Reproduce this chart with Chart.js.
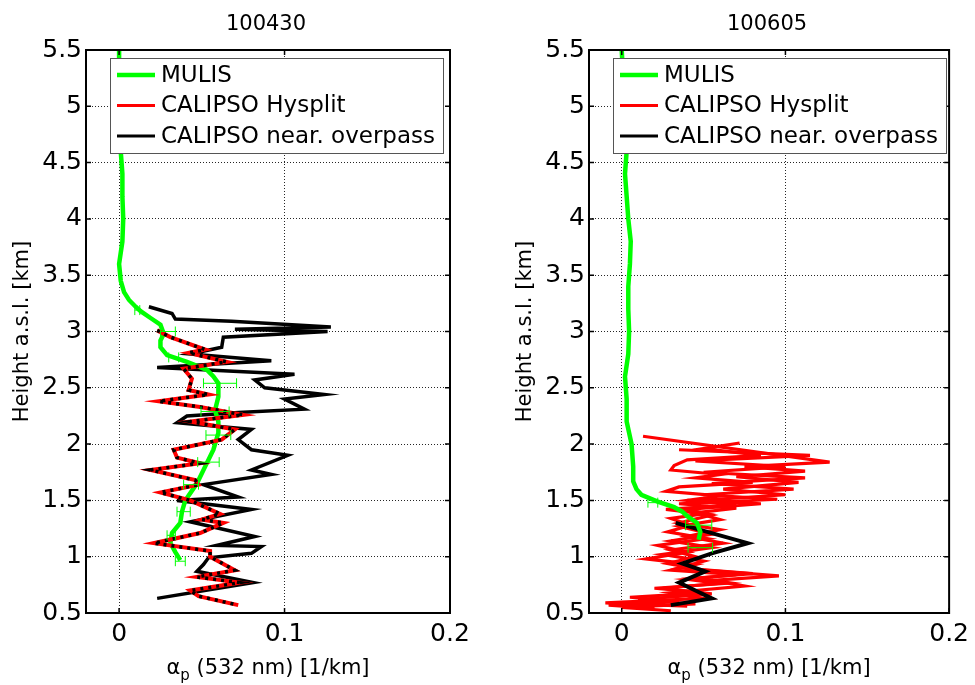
<!DOCTYPE html>
<html>
<head>
<meta charset="utf-8">
<script src="https://cdn.jsdelivr.net/npm/chart.js@4.4.0/dist/chart.umd.min.js"></script>
<style>
html, body { margin: 0; padding: 0; background: #fff; }
#wrap { position: relative; width: 975px; height: 685px; overflow: hidden; }
.panel { position: absolute; top: 0; height: 685px; }
</style>
</head>
<body>
<div id="wrap">
  <div class="panel" style="left:0;width:487px"><canvas id="c1"></canvas></div>
  <div class="panel" style="left:487px;width:488px"><canvas id="c2"></canvas></div>
</div>
<script>
// axis ticks
const xTicks = [0, 0.1, 0.2];
const xTickLabels = ['0', '0.1', '0.2'];
const yTicks = [0.5, 1, 1.5, 2, 2.5, 3, 3.5, 4, 4.5, 5, 5.5];
const yTickLabels = ['0.5', '1', '1.5', '2', '2.5', '3', '3.5', '4', '4.5', '5', '5.5'];
const xMin = -0.02, xMax = 0.2, yMin = 0.5, yMax = 5.5;

const legendLabels = ['MULIS', 'CALIPSO Hysplit', 'CALIPSO near. overpass'];
const panelTitles = ['100430', '100605'];

// ---- 100430 ----
const lMulisH = [5.5, 5.2, 4.9, 4.6, 4.4, 4.2, 4.0, 3.8, 3.6, 3.45, 3.35, 3.28, 3.22, 3.18, 3.12, 3.06, 2.98, 2.92, 2.86, 2.79, 2.73, 2.66, 2.60, 2.54, 2.42, 2.30, 2.20, 2.10, 1.95, 1.80, 1.65, 1.50, 1.40, 1.30, 1.21, 1.12, 1.04, 0.97];
const lMulisA = [0.000, 0.000, 0.001, 0.001, 0.002, 0.002, 0.0025, 0.002, 0.000, 0.001, 0.003, 0.006, 0.010, 0.013, 0.019, 0.025, 0.027, 0.025, 0.025, 0.029, 0.041, 0.053, 0.057, 0.060, 0.060, 0.058, 0.060, 0.060, 0.057, 0.052, 0.047, 0.040, 0.038, 0.037, 0.032, 0.031, 0.034, 0.037];
const lErrH = [3.19, 3.00, 2.77, 2.54, 2.29, 2.08, 1.84, 1.64, 1.40, 1.19, 0.96];
const lErrA = [0.011, 0.0295, 0.033, 0.061, 0.058, 0.060, 0.054, 0.0435, 0.039, 0.0315, 0.037];
const lErrD = [0.0015, 0.0045, 0.003, 0.010, 0.0085, 0.0075, 0.0065, 0.0045, 0.004, 0.0025, 0.003];

const lHysH = [3.01, 2.95, 2.84, 2.81, 2.73, 2.67, 2.58, 2.48, 2.44, 2.38, 2.33, 2.26, 2.20, 2.13, 2.04, 1.95, 1.88, 1.83, 1.77, 1.68, 1.64, 1.57, 1.50, 1.38, 1.33, 1.30, 1.21, 1.12, 1.05, 1.00, 0.88, 0.82, 0.77, 0.70, 0.65, 0.57];
const lHysA = [0.023, 0.031, 0.052, 0.042, 0.065, 0.039, 0.044, 0.042, 0.054, 0.024, 0.049, 0.075, 0.043, 0.070, 0.062, 0.033, 0.035, 0.049, 0.019, 0.046, 0.048, 0.025, 0.043, 0.061, 0.050, 0.063, 0.049, 0.021, 0.055, 0.055, 0.070, 0.047, 0.073, 0.043, 0.048, 0.072];

const lOverH = [3.22, 3.16, 3.11, 3.09, 3.04, 3.02, 3.00, 2.95, 2.86, 2.80, 2.74, 2.68, 2.62, 2.57, 2.50, 2.44, 2.40, 2.31, 2.28, 2.25, 2.19, 2.13, 2.04, 1.95, 1.90, 1.77, 1.73, 1.64, 1.53, 1.50, 1.42, 1.31, 1.18, 1.10, 1.09, 1.03, 0.99, 0.93, 0.87, 0.77, 0.63];
const lOverA = [0.018, 0.032, 0.034, 0.068, 0.128, 0.070, 0.126, 0.063, 0.062, 0.043, 0.092, 0.023, 0.106, 0.082, 0.088, 0.124, 0.100, 0.112, 0.072, 0.041, 0.035, 0.080, 0.072, 0.080, 0.102, 0.080, 0.092, 0.051, 0.072, 0.035, 0.080, 0.043, 0.082, 0.059, 0.086, 0.080, 0.054, 0.051, 0.047, 0.081, 0.023];

// ---- 100605 ----
const rMulisH = [5.5, 5.2, 4.9, 4.6, 4.4, 4.2, 4.0, 3.8, 3.6, 3.4, 3.2, 3.0, 2.8, 2.6, 2.4, 2.2, 2.0, 1.8, 1.67, 1.60, 1.55, 1.49, 1.44, 1.40, 1.36, 1.30, 1.22, 1.15];
const rMulisA = [0.000, 0.001, 0.002, 0.003, 0.002, 0.003, 0.004, 0.0055, 0.005, 0.004, 0.004, 0.0045, 0.004, 0.002, 0.003, 0.003, 0.006, 0.007, 0.007, 0.009, 0.012, 0.022, 0.032, 0.037, 0.040, 0.046, 0.048, 0.047];
const rErrH = [1.48, 1.28, 1.08];
const rErrA = [0.019, 0.047, 0.048];
const rErrD = [0.003, 0.008, 0.0075];

const rHys1H = [2.07, 1.84, 1.80, 1.76, 1.71, 1.66, 1.60, 1.55, 1.50, 1.47, 1.42, 1.37, 1.30, 1.24, 1.18, 1.12, 1.06, 1.00, 0.94, 0.88, 0.83, 0.79, 0.74, 0.68, 0.63, 0.59, 0.56];
const rHys1A = [0.013, 0.127, 0.075, 0.112, 0.070, 0.108, 0.062, 0.100, 0.048, 0.085, 0.040, 0.055, 0.035, 0.060, 0.040, 0.062, 0.030, 0.045, 0.028, 0.050, 0.096, 0.055, 0.075, 0.030, 0.050, -0.010, 0.040];
const rHys2H = [2.01, 1.96, 1.90, 1.86, 1.81, 1.77, 1.73, 1.70, 1.66, 1.62, 1.58, 1.54, 1.50, 1.46, 1.42, 1.38, 1.34, 1.28, 1.22, 1.16, 1.10, 1.04, 0.98, 0.93, 0.88, 0.84, 0.80, 0.76, 0.72, 0.68, 0.64, 0.60, 0.57, 0.54];
const rHys2A = [0.072, 0.050, 0.085, 0.040, 0.032, 0.030, 0.060, 0.045, 0.080, 0.035, 0.027, 0.060, 0.040, 0.070, 0.027, 0.050, 0.030, 0.042, 0.028, 0.052, 0.022, 0.040, 0.015, 0.045, 0.030, 0.070, 0.040, 0.060, 0.020, 0.050, 0.005, 0.035, -0.008, 0.020];
const rHys3H = [1.95, 1.90, 1.85, 1.80, 1.75, 1.70, 1.65, 1.60, 1.55, 1.51, 1.47, 1.43, 1.39, 1.33, 1.27, 1.20, 1.14, 1.08, 1.02, 0.96, 0.90, 0.85, 0.81, 0.77, 0.72, 0.67, 0.62, 0.58, 0.55, 0.52];
const rHys3A = [0.035, 0.115, 0.045, 0.100, 0.050, 0.112, 0.055, 0.105, 0.050, 0.095, 0.035, 0.070, 0.045, 0.060, 0.035, 0.055, 0.030, 0.055, 0.025, 0.050, 0.035, 0.080, 0.045, 0.065, 0.025, 0.055, 0.010, 0.045, 0.000, 0.030];

const rOverH = [1.30, 1.21, 1.12, 1.03, 0.94, 0.87, 0.77, 0.70, 0.63, 0.57];
const rOverA = [0.033, 0.055, 0.077, 0.055, 0.037, 0.051, 0.035, 0.045, 0.055, 0.030];

const GREEN = '#00ff00', RED = '#ff0000', BLACK = '#000000';
const legendColors = [GREEN, RED, BLACK];
const legendWidths = [4.5, 3, 3];

Chart.defaults.font.family = "'DejaVu Sans', sans-serif";
Chart.defaults.color = '#000';

function pts(h, a) {
    return h.map((v, i) => ({ x: a[i], y: v }));
}

function line(label, h, a, color, width, order, dash) {
    return {
        label: label,
        data: pts(h, a),
        showLine: true,
        borderColor: color,
        backgroundColor: color,
        borderWidth: width,
        borderDash: dash || [],
        pointRadius: 0,
        pointHoverRadius: 0,
        tension: 0,
        order: order
    };
}

// error bars, frame, inner ticks, legend, title and x label
function makeDecor(title, errH, errA, errD) {
    return {
        id: 'decor',
        afterDatasetsDraw(chart) {
            const { ctx, scales: { x, y } } = chart;
            ctx.save();
            ctx.strokeStyle = GREEN;
            ctx.lineWidth = 1;
            errH.forEach((h, i) => {
                const py = y.getPixelForValue(h);
                const x0 = x.getPixelForValue(errA[i] - errD[i]);
                const x1 = x.getPixelForValue(errA[i] + errD[i]);
                ctx.beginPath();
                ctx.moveTo(x0, py); ctx.lineTo(x1, py);
                ctx.moveTo(x0, py - 5); ctx.lineTo(x0, py + 5);
                ctx.moveTo(x1, py - 5); ctx.lineTo(x1, py + 5);
                ctx.stroke();
            });
            ctx.restore();
        },
        afterDraw(chart) {
            const { ctx, chartArea: ca, scales: { x, y } } = chart;
            ctx.save();
            // frame
            ctx.strokeStyle = BLACK;
            ctx.lineWidth = 2;
            ctx.strokeRect(ca.left, ca.top, ca.right - ca.left, ca.bottom - ca.top);
            // inward ticks
            ctx.lineWidth = 1.5;
            ctx.beginPath();
            xTicks.forEach(v => {
                const px = x.getPixelForValue(v);
                ctx.moveTo(px, ca.bottom); ctx.lineTo(px, ca.bottom - 5);
                ctx.moveTo(px, ca.top); ctx.lineTo(px, ca.top + 5);
            });
            yTicks.forEach(v => {
                const py = y.getPixelForValue(v);
                ctx.moveTo(ca.left, py); ctx.lineTo(ca.left + 5, py);
                ctx.moveTo(ca.right, py); ctx.lineTo(ca.right - 5, py);
            });
            ctx.stroke();

            // legend
            const bx = ca.left + 24, by = ca.top + 8, bw = 333, bh = 95;
            ctx.fillStyle = '#fff';
            ctx.fillRect(bx, by, bw, bh);
            ctx.strokeStyle = '#555';
            ctx.lineWidth = 1;
            ctx.strokeRect(bx + 0.5, by + 0.5, bw, bh);
            ctx.font = "23px 'DejaVu Sans'";
            ctx.textBaseline = 'middle';
            ctx.textAlign = 'left';
            legendLabels.forEach((lab, i) => {
                const ly = by + 17 + i * 30.5;
                ctx.strokeStyle = legendColors[i];
                ctx.lineWidth = legendWidths[i];
                ctx.beginPath();
                ctx.moveTo(bx + 7, ly); ctx.lineTo(bx + 45, ly);
                ctx.stroke();
                ctx.fillStyle = BLACK;
                ctx.fillText(lab, bx + 51, ly + 1);
            });

            // panel title
            const cx = (ca.left + ca.right) / 2;
            ctx.fillStyle = BLACK;
            ctx.textAlign = 'center';
            ctx.textBaseline = 'alphabetic';
            ctx.font = "21px 'DejaVu Sans'";
            ctx.fillText(title, cx - 2, 30);

            // x axis label with subscript
            const big = "21px 'DejaVu Sans'", small = "15px 'DejaVu Sans'";
            const rest = ' (532 nm) [1/km]';
            ctx.font = big;
            const wA = ctx.measureText('\u03b1').width;
            const wR = ctx.measureText(rest).width;
            ctx.font = small;
            const wP = ctx.measureText('p').width;
            let tx = cx - (wA + wP + wR) / 2;
            const base = ca.bottom + 61;
            ctx.textAlign = 'left';
            ctx.font = big;
            ctx.fillText('\u03b1', tx, base);
            ctx.font = small;
            ctx.fillText('p', tx + wA, base + 6);
            ctx.font = big;
            ctx.fillText(rest, tx + wA + wP, base);
            ctx.restore();
        }
    };
}

function makeChart(id, padLeft, padRight, title, datasets, errH, errA, errD) {
    const ctx = document.getElementById(id).getContext('2d');
    return new Chart(ctx, {
        type: 'scatter',
        data: { datasets: datasets },
        options: {
            responsive: true,
            maintainAspectRatio: false,
            animation: false,
            devicePixelRatio: 1,
            layout: { padding: { left: padLeft, right: padRight, top: 50, bottom: 0 } },
            plugins: {
                legend: { display: false },
                tooltip: { enabled: false }
            },
            scales: {
                x: {
                    type: 'linear',
                    min: xMin,
                    max: xMax,
                    afterBuildTicks: s => { s.ticks = xTicks.map(v => ({ value: v })); },
                    afterFit: s => { s.height = 72; },
                    ticks: {
                        callback: (v, i) => xTickLabels[i],
                        font: { size: 25 },
                        padding: 6,
                        maxRotation: 0,
                        autoSkip: false
                    },
                    grid: { color: 'rgba(0,0,0,0.85)', lineWidth: 1, drawTicks: false },
                    border: { display: false, dash: [1, 2] }
                },
                y: {
                    type: 'linear',
                    min: yMin,
                    max: yMax,
                    afterBuildTicks: s => { s.ticks = yTicks.map(v => ({ value: v })); },
                    afterFit: s => { s.width = 86; },
                    ticks: {
                        callback: (v, i) => yTickLabels[i],
                        font: { size: 25 },
                        padding: 4,
                        autoSkip: false
                    },
                    title: {
                        display: true,
                        text: 'Height a.s.l. [km]',
                        font: { size: 21 },
                        padding: { top: 10, bottom: 0 }
                    },
                    grid: { color: 'rgba(0,0,0,0.85)', lineWidth: 1, drawTicks: false },
                    border: { display: false, dash: [1, 2] }
                }
            }
        },
        plugins: [makeDecor(title, errH, errA, errD)]
    });
}

makeChart('c1', 0, 37, panelTitles[0], [
    line(legendLabels[2], lOverH, lOverA, BLACK, 3.5, 4),
    line(legendLabels[0], lMulisH, lMulisA, GREEN, 4.5, 3),
    line(legendLabels[1], lHysH, lHysA, RED, 4, 2),
    line(legendLabels[2], lHysH, lHysA, BLACK, 3.5, 1, [3, 5])
], lErrH, lErrA, lErrD);

makeChart('c2', 16, 22, panelTitles[1], [
    line(legendLabels[1], rHys1H, rHys1A, RED, 3.2, 6),
    line(legendLabels[1], rHys2H, rHys2A, RED, 3.2, 5),
    line(legendLabels[1], rHys3H, rHys3A, RED, 3.2, 4),
    line(legendLabels[2], rOverH, rOverA, BLACK, 4, 2),
    line(legendLabels[0], rMulisH, rMulisA, GREEN, 4.5, 1)
], rErrH, rErrA, rErrD);
</script>
</body>
</html>
